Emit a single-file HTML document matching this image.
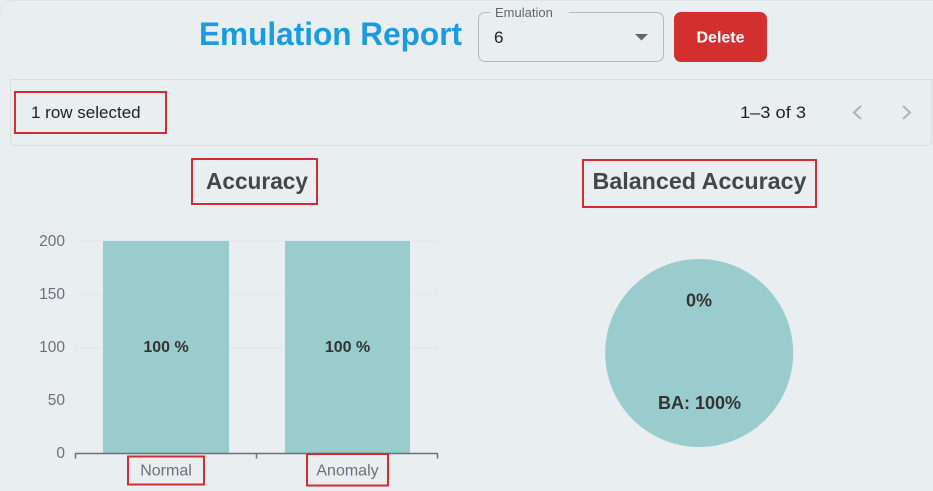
<!DOCTYPE html>
<html>
<head>
<meta charset="utf-8">
<style>
  html, body { margin: 0; padding: 0; background: #e9eef1; }
  body { width: 933px; height: 491px; overflow: hidden; }
  svg { display: block; }
  text { font-family: "Liberation Sans", Arial, sans-serif; }
</style>
</head>
<body>
<svg width="933" height="491" viewBox="0 0 933 491" xmlns="http://www.w3.org/2000/svg">
  <rect x="0" y="0" width="933" height="491" fill="#e9eef1"/>
  <!-- faint outer card corner -->
  <path d="M0.5 14 Q0.5 0.5 14 0.5 L933 0.5" fill="none" stroke="#dfe4e7" stroke-width="1"/>

  <!-- Title -->
  <text x="199" y="45" font-size="32" font-weight="bold" fill="#1b9be0" textLength="263" lengthAdjust="spacingAndGlyphs">Emulation Report</text>

  <!-- Select -->
  <path d="M490 12.5 L486 12.5 Q478.5 12.5 478.5 20 L478.5 54 Q478.5 61.5 486 61.5 L656 61.5 Q663.5 61.5 663.5 54 L663.5 20 Q663.5 12.5 656 12.5 L569 12.5" fill="none" stroke="#b5b9bd" stroke-width="1"/>
  <text x="495" y="17" font-size="13" fill="#666">Emulation</text>
  <text x="494" y="43" font-size="17" fill="#222">6</text>
  <path d="M635 34 L648 34 L641.5 40.5 Z" fill="#666"/>

  <!-- Delete button -->
  <rect x="674" y="12" width="93" height="50" rx="7" fill="#d32f2f"/>
  <text x="720.5" y="42.5" font-size="16" font-weight="bold" fill="#ffffff" text-anchor="middle">Delete</text>

  <!-- Toolbar -->
  <path d="M10.5 79.5 L933 79.5" fill="none" stroke="#d9dde0" stroke-width="1"/>
  <path d="M10.5 79.5 L10.5 140 Q10.5 145.5 16 145.5 L926 145.5 Q931.5 145.5 931.5 140 L931.5 79.5" fill="none" stroke="#d9dde0" stroke-width="1"/>
  <rect x="15" y="92" width="151" height="41" fill="none" stroke="#d12d36" stroke-width="2"/>
  <text x="31" y="118" font-size="17" fill="#222">1 row selected</text>
  <text x="740" y="118" font-size="17" fill="#222" textLength="66" lengthAdjust="spacingAndGlyphs">1–3 of 3</text>
  <path d="M861 106 L854 112.5 L861 119" fill="none" stroke="#b0b3b6" stroke-width="2"/>
  <path d="M903 106 L910 112.5 L903 119" fill="none" stroke="#b0b3b6" stroke-width="2"/>

  <!-- Accuracy chart -->
  <rect x="192" y="159" width="125" height="45" fill="none" stroke="#d12d36" stroke-width="2"/>
  <text x="206" y="189" font-size="23" font-weight="bold" fill="#464646" textLength="102" lengthAdjust="spacingAndGlyphs">Accuracy</text>

  <!-- grid -->
  <g stroke="#dfe5ec" stroke-width="1">
    <line x1="75" y1="241" x2="438" y2="241"/>
    <line x1="75" y1="294" x2="438" y2="294"/>
    <line x1="75" y1="347.5" x2="438" y2="347.5"/>
    <line x1="75" y1="400" x2="438" y2="400"/>
  </g>
  <!-- y labels -->
  <g font-size="15.5" fill="#6e7079" text-anchor="end">
    <text x="65" y="246">200</text>
    <text x="65" y="299">150</text>
    <text x="65" y="352">100</text>
    <text x="65" y="405">50</text>
    <text x="65" y="458">0</text>
  </g>
  <!-- bars -->
  <rect x="103" y="241" width="126" height="212.5" fill="#9bcccd"/>
  <rect x="285" y="241" width="125" height="212.5" fill="#9bcccd"/>
  <g font-size="16" font-weight="bold" fill="#333" text-anchor="middle">
    <text x="166" y="352">100 %</text>
    <text x="347.5" y="352">100 %</text>
  </g>
  <!-- axis -->
  <g stroke="#6e7079" stroke-width="1.5" fill="none">
    <line x1="75" y1="453.5" x2="438" y2="453.5"/>
    <line x1="75.5" y1="453.5" x2="75.5" y2="458.5"/>
    <line x1="256.5" y1="453.5" x2="256.5" y2="458.5"/>
    <line x1="437.5" y1="453.5" x2="437.5" y2="458.5"/>
  </g>
  <rect x="128" y="456.5" width="76" height="28" fill="none" stroke="#d12d36" stroke-width="2"/>
  <rect x="307" y="454" width="81" height="31.5" fill="none" stroke="#d12d36" stroke-width="2"/>
  <g font-size="16" fill="#6e7079" text-anchor="middle">
    <text x="166" y="475.5">Normal</text>
    <text x="347.5" y="475.5">Anomaly</text>
  </g>

  <!-- Balanced Accuracy -->
  <rect x="583" y="160" width="233" height="47" fill="none" stroke="#d12d36" stroke-width="2"/>
  <text x="592.5" y="189" font-size="23" font-weight="bold" fill="#464646" textLength="214" lengthAdjust="spacingAndGlyphs">Balanced Accuracy</text>
  <circle cx="699.2" cy="353" r="94" fill="#9bcccd"/>
  <g font-size="18" font-weight="bold" fill="#333" text-anchor="middle">
    <text x="699" y="306.5">0%</text>
    <text x="699.5" y="409">BA: 100%</text>
  </g>
</svg>
</body>
</html>
